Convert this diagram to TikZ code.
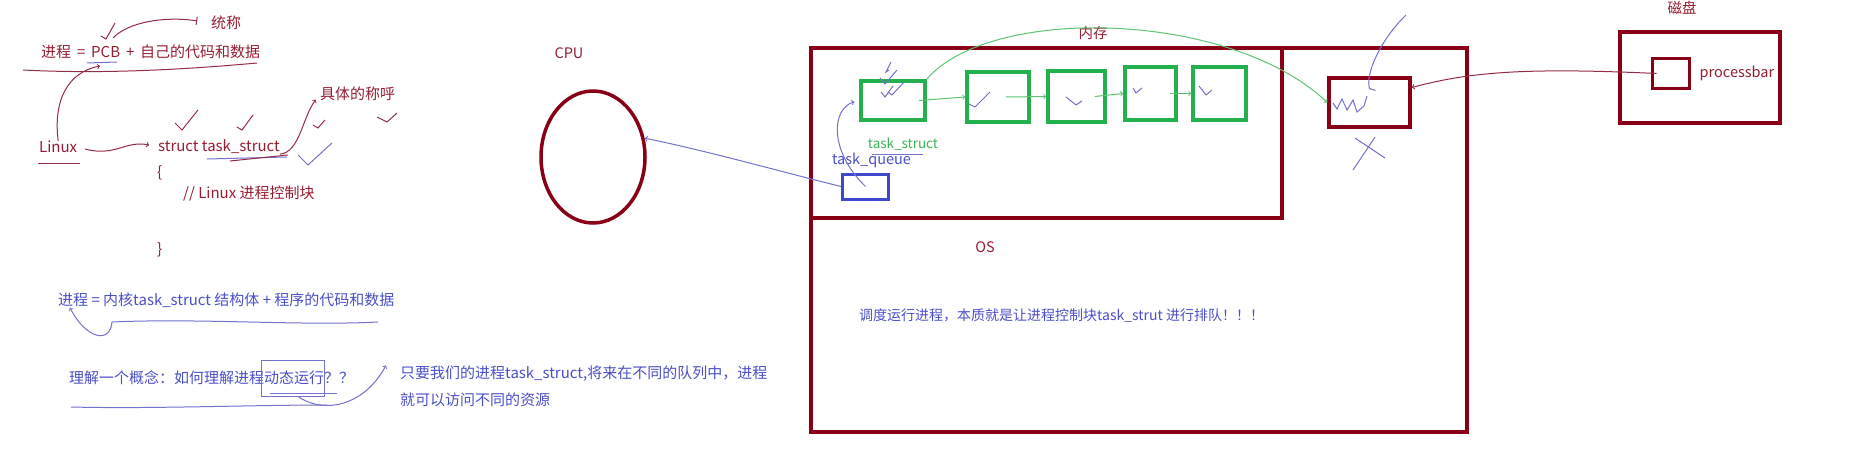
\documentclass[tikz,border=0pt]{standalone}
\usepackage{fontspec}
\newfontfamily\cjk{Noto Sans CJK SC}
\usetikzlibrary{arrows,positioning,shapes}
\definecolor{darkred}{RGB}{136,0,21}
\definecolor{redink}{RGB}{150,30,50}
\definecolor{paintgreen}{RGB}{34,177,76}
\definecolor{greenink}{RGB}{60,180,90}
\definecolor{indigo}{RGB}{63,72,204}
\definecolor{blueink}{RGB}{75,80,200}
\definecolor{bluepen}{RGB}{115,115,205}
\definecolor{redpen}{RGB}{150,45,70}
\definecolor{greenpen}{RGB}{95,195,115}
\tikzstyle{redtext} = [font=\cjk\fontsize{15}{18}\selectfont, text=redink, inner sep=0pt]
\tikzstyle{bluetext} = [font=\cjk\fontsize{15}{27}\selectfont, text=blueink, inner sep=0pt]
\tikzstyle{tagtext} = [font=\cjk\fontsize{14.5}{17}\selectfont, inner sep=0pt]
\tikzstyle{redframe} = [rectangle, draw=darkred, line width=3.5pt, inner sep=0pt]
\tikzstyle{pcbbox} = [rectangle, draw=paintgreen, line width=3.5pt, inner sep=0pt]
\tikzstyle{queuebox} = [rectangle, draw=indigo, line width=3pt, inner sep=0pt,
    minimum width=46pt, minimum height=25pt]
\tikzstyle{redline} = [draw=redpen, line width=1pt]
\tikzstyle{blueline} = [draw=bluepen, line width=1pt]
\tikzstyle{greenline} = [draw=greenpen, line width=1pt]
\begin{document}
\begin{tikzpicture}[x=1pt, y=-1pt, >=to]
      \useasboundingbox (0,0) rectangle (1871,460);
      \fill [white] (0,0) rectangle (1871,460);
      % notes on the left
      \node [redtext, anchor=west] (pcbdef) at (41,52) {进程 \,=\, PCB \,+\, 自己的代码和数据};
      \node [redtext, anchor=west] (tongcheng) at (211,23) {统称};
      \node [redtext, anchor=west] (linux) at (39,147) {Linux};
      \node [redtext, anchor=west] (taskstruct) at (158,147) {struct task\_struct};
      \node [redtext, anchor=west] (lbrace) at (157,173) {\{};
      \node [redtext, anchor=west] (pcbnote) at (183,194) {// Linux 进程控制块};
      \node [redtext, anchor=west] (rbrace) at (157,250) {\}};
      \node [redtext, anchor=west] (specname) at (320,94) {具体的称呼};
      \node [bluetext, anchor=west] (kerneldef) at (58,300) {进程 = 内核task\_struct 结构体 + 程序的代码和数据};
      \node [bluetext, anchor=west] (concept) at (69,378) {理解一个概念：如何理解进程动态运行？？};
      \node [draw=bluepen, line width=1pt, minimum width=63pt, minimum height=36pt] (dynbox) at (293,378) {};
      \node [bluetext, anchor=west, align=left] (answer) at (400,386) {只要我们的进程task\_struct,将来在不同的队列中，进程\\就可以访问不同的资源};
      % cpu, memory, disk
      \node [tagtext, text=redink] (cpulabel) at (569,53) {CPU};
      \node [ellipse, draw=darkred, line width=3.5pt, minimum width=104pt, minimum height=132pt] (cpu) at (593,157) {};
      \node [redframe, minimum width=656pt, minimum height=384pt] (os) at (1139,240) {};
      \node [redframe, minimum width=471pt, minimum height=170pt] (memory) at (1046.5,133) {};
      \node [tagtext, text=redink] (memlabel) at (1093,33) {内存};
      \node [tagtext, text=redink] (oslabel) at (985,247) {OS};
      \node [pcbbox, minimum width=64pt, minimum height=39pt] (ts1) at (893,100.5) {};
      \node [pcbbox, minimum width=62pt, minimum height=50pt] (ts2) at (998,97) {};
      \node [pcbbox, minimum width=57pt, minimum height=51pt] (ts3) at (1076.5,96.5) {};
      \node [pcbbox, minimum width=51pt, minimum height=53pt] (ts4) at (1150.5,93.5) {};
      \node [pcbbox, minimum width=53pt, minimum height=53pt] (ts5) at (1219.5,93.5) {};
      \node [tagtext, text=greenink, font=\cjk\fontsize{13.5}{16}\selectfont, below=16pt of ts1, xshift=10pt] (tslabel) {task\_struct};
      \node [queuebox] (taskqueue) at (865.5,186.5) {};
      \node [tagtext, text=blueink, above=4pt of taskqueue, xshift=6pt] (tqlabel) {task\_queue};
      \node [bluetext, font=\cjk\fontsize{14}{17}\selectfont, anchor=west] (schedtext) at (859,316) {调度运行进程，本质就是让进程控制块task\_strut 进行排队！！！};
      \node [redframe, minimum width=81pt, minimum height=49pt] (memproc) at (1369.5,102.5) {};
      \node [redframe, minimum width=160pt, minimum height=91pt] (disk) at (1700,77.5) {};
      \node [tagtext, text=redink] (disklabel) at (1682,8) {磁盘};
      \node [redframe, line width=3pt, minimum width=37pt, minimum height=29pt] (procbar) at (1670.5,73.5) {};
      \node [tagtext, text=redink, right=9pt of procbar] (procbarlabel) {processbar};
      \coordinate (pcbfoot) at (100,66);
      \coordinate (pcbtop) at (113,38);
      \coordinate (penstart) at (1406,15);
      % Draw edges
      \path [redline, ->] (linux.north) .. controls (53,100) and (68,72) .. (pcbfoot);
      \path [redline, -|, shorten >=14pt] (pcbtop) .. controls (128,22) and (165,16) .. (tongcheng.west);
      \path [redline, ->, shorten <=8pt, shorten >=9pt] (linux.east) .. controls (115,157) and (126,140) .. (taskstruct.west);
      \path [redline, ->, shorten >=7pt] (taskstruct.south east) .. controls (300,152) and (302,118) .. (specname.west);
      \path [blueline, ->] (112,322) .. controls (110,345) and (85,338) .. ([xshift=12pt]kerneldef.south west);
      \path [blueline, ->] ([xshift=5pt]dynbox.south) .. controls (325,415) and (365,405) .. ([xshift=-14pt]answer.north west);
      \path [blueline, ->] (taskqueue.west) .. controls (786,173) and (704,150) .. (cpu.20);
      \path [blueline, ->, shorten >=5pt] (taskqueue.center) .. controls (828,150) and (832,108) .. (ts1.west);
      \path [greenline, ->] (ts1.north east) .. controls (990,5) and (1230,10) .. (memproc.west);
      \path [greenline, ->] ([xshift=-8pt]ts1.east) -- (ts2.west);
      \path [greenline, ->] ([xshift=-25pt]ts2.east) -- (ts3.west);
      \path [greenline, ->] ([xshift=-12pt]ts3.east) -- (ts4.west);
      \path [greenline, ->] ([xshift=-8pt]ts4.east) -- (ts5.west);
      \path [redline, ->] ([xshift=6pt]procbar.west) .. controls (1519,67) and (1466,73) .. ([yshift=15pt]memproc.east);
      \path [blueline] (penstart) .. controls (1380,40) and (1365,75) .. ([yshift=14pt]memproc.center) -- ++(6,2);
      % pen marks
      \draw [redline] (23,70) .. controls (100,74) and (180,70) .. (257,63);
      \draw [blueline] (87,63) -- (117,62);
      \draw [redline] (101,36) -- (106,39) -- (115,23);
      \draw [redline] (38,163) -- (80,163);
      \draw [redline] (175,123) -- (182,130) -- (198,110);
      \draw [redline] (237,127) -- (242,130) -- (253,115);
      \draw [blueline] (207,159) -- (287,157);
      \draw [redline] (230,161) -- (288,155);
      \draw [redline] (313,125) -- (318,128) -- (325,120);
      \draw [redline] (377,117) -- (387,122) -- (397,113);
      \draw [blueline] (298,155) -- (308,165) -- (332,143);
      \draw [blueline] (112,322) .. controls (200,318) and (300,326) .. (378,322);
      \draw [blueline] (270,393) -- (337,393);
      \draw [blueline] (71,407) .. controls (150,409) and (250,405) .. (327,405);
      \draw [blueline] (872,154) -- (923,154);
      \draw [blueline] (891,62) -- (886,72) -- (889,70);
      \draw [blueline] (880,78) -- (885,84) -- (897,70);
      \draw [blueline] (881,92) -- (885,97) -- (893,86);
      \draw [blueline] (888,92) -- (892,95) -- (904,82);
      \draw [blueline] (969,104) -- (975,107) -- (990,92);
      \draw [blueline] (1066,97) -- (1076,105) -- (1082,101);
      \draw [blueline] (1133,88) -- (1136,93) -- (1142,88);
      \draw [blueline] (1199,86) -- (1206,95) -- (1212,90);
      \draw [blueline] (1333,103) -- (1337,109) -- (1342,99) -- (1347,110) -- (1353,100) -- (1357,112) -- (1364,106) -- (1367,96);
      \draw [blueline] (1353,170) -- (1375,137);
      \draw [blueline] (1355,138) -- (1385,158);
  \end{tikzpicture}
\end{document}
